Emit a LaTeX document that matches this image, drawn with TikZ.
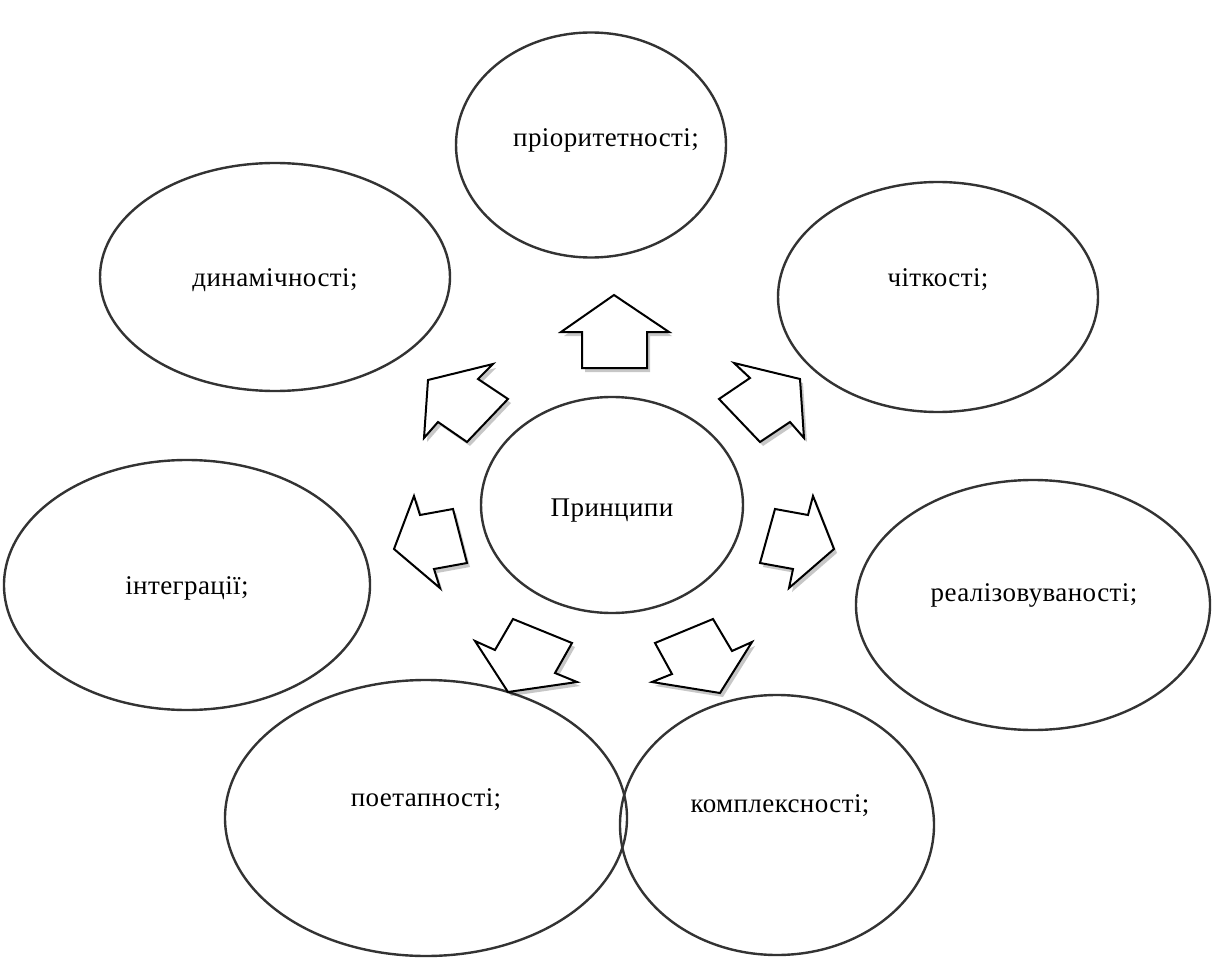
\documentclass[tikz,border=0pt]{standalone}
\usepackage{fontspec}
\setmainfont{Liberation Serif}[LetterSpace=1.5]
\usetikzlibrary{shapes.geometric,shadows}
\begin{document}
\begin{tikzpicture}[x=1pt,y=-1pt,
  oval/.style={draw=black!80,line width=2.4pt,ellipse,inner sep=0pt},
  lbl/.style={font=\fontsize{27}{30}\selectfont,inner sep=0pt,anchor=base},
  blockarrow/.style={draw=black,line width=2pt,fill=white,line join=miter,
    drop shadow={shadow xshift=3pt,shadow yshift=-4pt,opacity=0.22,fill=black}}]
\useasboundingbox (0,0) rectangle (1213,960);
% ellipses
\node[oval,minimum width=270pt,minimum height=225pt] (e1) at (591,145) {};
\node[oval,minimum width=350pt,minimum height=228pt] (e2) at (275,277) {};
\node[oval,minimum width=320pt,minimum height=230pt] (e3) at (938,297) {};
\node[oval,minimum width=262pt,minimum height=216pt] (e0) at (612,505) {};
\node[oval,minimum width=366pt,minimum height=250pt] (e4) at (187,585) {};
\node[oval,minimum width=354pt,minimum height=250pt] (e5) at (1033,605) {};
\node[oval,minimum width=402pt,minimum height=276pt] (e6) at (426,818) {};
\node[oval,minimum width=314pt,minimum height=260pt] (e7) at (777,825) {};
% labels
\node[lbl] (t1) at (606,147) {пріоритетності;};
\node[lbl] (t2) at (275,287) {динамічності;};
\node[lbl] (t3) at (938,286) {чіткості;};
\node[lbl] (t0) at (612,516) {Принципи};
\node[lbl] (t4) at (187,594) {інтеграції;};
\node[lbl] (t5) at (1034,601) {реалізовуваності;};
\node[lbl] (t6) at (426,806) {поетапності;};
\node[lbl] (t7) at (780,812) {комплексності;};
% block arrows
\draw[blockarrow] (614,295) -- (669,332) -- (647,332) -- (647,368) -- (582,368) -- (582,332) -- (561,332) -- cycle;
\draw[blockarrow] (428,380) -- (493,364) -- (478,379) -- (508,399) -- (467,442) -- (438,422) -- (424,438) -- cycle;
\draw[blockarrow] (800,379) -- (734,363) -- (750,378) -- (719,399) -- (760,442) -- (790,422) -- (804,438) -- cycle;
\draw[blockarrow] (394,549) -- (414,496) -- (420,515) -- (453,509) -- (467,563) -- (434,569) -- (440,588) -- cycle;
\draw[blockarrow] (834,549) -- (813,496) -- (808,515) -- (775,509) -- (760,563) -- (793,569) -- (789,588) -- cycle;
\draw[blockarrow] (508,692) -- (475,641) -- (495,650) -- (513,619) -- (572,643) -- (555,673) -- (577,682) -- cycle;
\draw[blockarrow] (720,693) -- (752,642) -- (732,651) -- (713,619) -- (655,643) -- (672,674) -- (652,682) -- cycle;
\end{tikzpicture}
\end{document}
